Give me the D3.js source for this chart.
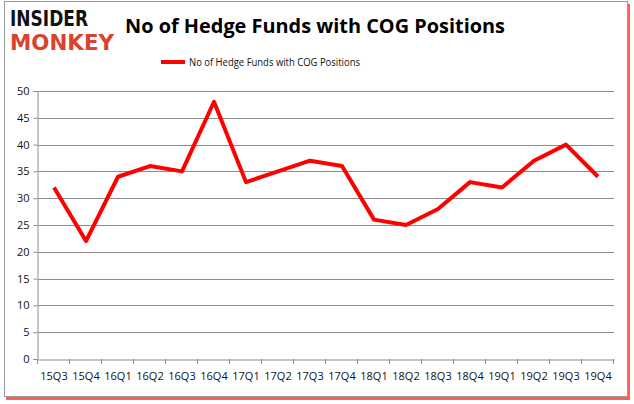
<!DOCTYPE html>
<html>
<head>
<meta charset="utf-8">
<script src="https://cdn.jsdelivr.net/npm/d3@7"></script>
<style>
  body { margin: 0; background: #fff; }
  svg { display: block; font-family: "Open Sans", "DejaVu Sans", sans-serif; }
</style>
</head>
<body>
<svg width="634" height="404"></svg>
<script>
const quarters = ["15Q3","15Q4","16Q1","16Q2","16Q3","16Q4","17Q1","17Q2","17Q3","17Q4",
                  "18Q1","18Q2","18Q3","18Q4","19Q1","19Q2","19Q3","19Q4"];
const funds = [32, 22, 34, 36, 35, 48, 33, 35, 37, 36, 26, 25, 28, 33, 32, 37, 40, 34];
const yTicks = [0, 5, 10, 15, 20, 25, 30, 35, 40, 45, 50];
const seriesName = "No of Hedge Funds with COG Positions";

const svg = d3.select("svg");

// frame with red shadow
svg.append("rect").attr("x", 6).attr("y", 4).attr("width", 624).attr("height", 396)
   .attr("fill", "#f33").attr("opacity", 0.8);
svg.append("rect").attr("x", 4.5).attr("y", 1.5).attr("width", 623).attr("height", 395)
   .attr("fill", "#fff").attr("stroke", "#999");

// logo
svg.append("text").attr("x", 10).attr("y", 26)
   .attr("font-family", "DejaVu Sans").attr("font-weight", "bold").attr("font-size", 20.5)
   .attr("textLength", 78).attr("lengthAdjust", "spacingAndGlyphs")
   .attr("fill", "#111").text("INSIDER");
svg.append("text").attr("x", 10).attr("y", 50)
   .attr("font-family", "DejaVu Sans").attr("font-weight", "bold").attr("font-size", 20.5)
   .attr("textLength", 104).attr("lengthAdjust", "spacingAndGlyphs")
   .attr("fill", "#d9432d").text("MONKEY");

// title
svg.append("text").attr("x", 125).attr("y", 33)
   .attr("font-weight", "bold").attr("font-size", 20)
   .attr("textLength", 380).attr("lengthAdjust", "spacingAndGlyphs")
   .attr("fill", "#000").text(seriesName);

// legend
svg.append("line").attr("x1", 161).attr("x2", 185).attr("y1", 62).attr("y2", 62)
   .attr("stroke", "red").attr("stroke-width", 4);
svg.append("text").attr("x", 189).attr("y", 66).attr("font-size", 11.5)
   .attr("textLength", 171).attr("lengthAdjust", "spacingAndGlyphs")
   .attr("fill", "#111").text(seriesName);

const plotLeft = 38, plotRight = 614, plotTop = 91, plotBottom = 359;

const x = d3.scaleBand().domain(quarters).range([plotLeft, plotRight]);
const y = d3.scaleLinear().domain([0, 50]).range([plotBottom, plotTop]);

// gridlines
svg.append("g").selectAll("line").data(yTicks.filter(d => d > 0)).enter().append("line")
   .attr("x1", plotLeft).attr("x2", plotRight)
   .attr("y1", d => Math.round(y(d)) + 0.5).attr("y2", d => Math.round(y(d)) + 0.5)
   .attr("stroke", "#8c8c8c").attr("stroke-width", 1);

// y axis
const yAxis = svg.append("g").attr("transform", `translate(${plotLeft - 0.5},0)`)
   .call(d3.axisLeft(y).tickValues(yTicks).tickSize(4).tickPadding(4));
yAxis.selectAll("path, line").attr("stroke", "#8c8c8c");
yAxis.selectAll("text").attr("font-size", 11).attr("fill", "#111")
   .attr("font-family", "Open Sans, sans-serif");

// x axis
const xAxis = svg.append("g").attr("transform", `translate(0,${Math.round(plotBottom) + 0.5})`)
   .call(d3.axisBottom(x).tickSize(0).tickPadding(13));
xAxis.select("path").attr("stroke", "#8c8c8c");
xAxis.selectAll("text").attr("font-size", 11).attr("fill", "#111")
   .attr("font-family", "Open Sans, sans-serif");
// ticks at band boundaries
svg.append("g").selectAll("line").data(d3.range(quarters.length + 1)).enter().append("line")
   .attr("x1", i => Math.round(plotLeft + i * x.step()) - 0.5)
   .attr("x2", i => Math.round(plotLeft + i * x.step()) - 0.5)
   .attr("y1", plotBottom).attr("y2", plotBottom + 5)
   .attr("stroke", "#8c8c8c");

// line
const line = d3.line()
   .x((d, i) => x(quarters[i]) + x.bandwidth() / 2)
   .y(d => y(d));
svg.append("path").datum(funds)
   .attr("d", line).attr("fill", "none")
   .attr("stroke", "red").attr("stroke-width", 4).attr("stroke-linejoin", "round");
</script>
</body>
</html>
